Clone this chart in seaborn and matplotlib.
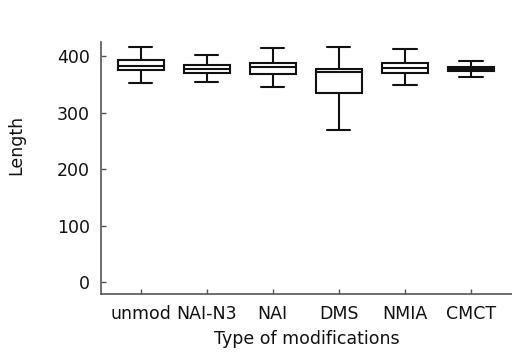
import numpy as np
import pandas as pd
import matplotlib
matplotlib.use("Agg")
import matplotlib.pyplot as plt
import seaborn as sns

categories = ["unmod", "NAI-N3", "NAI", "DMS", "NMIA", "CMCT"]
# five-number summaries: lower whisker, Q1, median, Q3, upper whisker
whisk_lo = [352, 355, 345, 269, 349, 363]
q1 = [375, 371, 369, 335, 371, 373]
median = [382, 378, 380, 372, 379, 377]
q3 = [393, 385, 388, 378, 388, 381]
whisk_hi = [416, 402, 414, 416, 412, 391]
y_ticks = [0, 100, 200, 300, 400]

rows = []
for i, c in enumerate(categories):
    for v in (whisk_lo[i], q1[i], median[i], q3[i], whisk_hi[i]):
        rows.append({"Type of modifications": c, "Length": v})
df = pd.DataFrame(rows)

sns.set_theme(style="ticks")
plt.rcParams["font.family"] = ["DejaVu Sans"]

fig = plt.figure(figsize=(5.12, 3.56), dpi=100)
ax = fig.add_axes([101 / 512, 62 / 356, 411 / 512, 252 / 356])

sns.boxplot(data=df, x="Type of modifications", y="Length", order=categories,
            whis=np.inf, width=0.7, color="white", linecolor="#111111",
            linewidth=1.5, ax=ax)

ax.set_ylim(-21, 425)
ax.set_xlim(-0.6, 5.62)
ax.set_yticks(y_ticks)
for s in ["top", "right"]:
    ax.spines[s].set_visible(False)
for s in ["left", "bottom"]:
    ax.spines[s].set_color("#555555")
    ax.spines[s].set_linewidth(1.2)
ax.tick_params(axis="both", direction="in", length=3.5, width=1.0, color="#555555",
               labelsize=12.5, labelcolor="#111111")
ax.tick_params(axis="x", pad=8)
ax.tick_params(axis="y", pad=8)
ax.set_xlabel("Type of modifications", fontsize=12.5, labelpad=5, color="#111111")
ax.set_ylabel("Length", fontsize=12.5, color="#111111")
ax.yaxis.set_label_coords(-0.185, 0.59)

fig.savefig("out.png", dpi=100)
